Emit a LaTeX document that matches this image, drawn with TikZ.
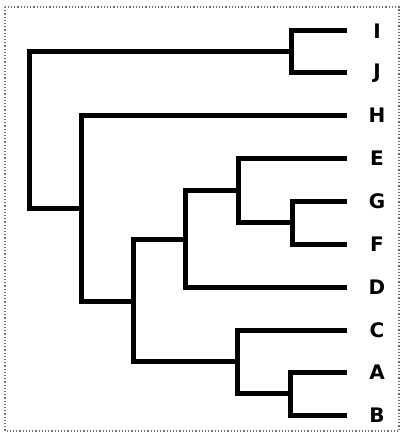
\documentclass[tikz,border=0pt]{standalone}
\usepackage{fontspec}
\setsansfont{DejaVu Sans}
\usepackage{tikz}
\usetikzlibrary{positioning}

\begin{document}
\begin{tikzpicture}[
        x=1pt, y=-1pt,
        branch/.style={line width=5pt, line join=miter, draw=black},
        leaf/.style={font=\sffamily\bfseries\fontsize{20}{23}\selectfont, anchor=center, inner sep=0pt},
        frame/.style={draw=black!55, dotted, line width=1.2pt}
    ]
        \useasboundingbox (0,0) rectangle (401,433);
        \draw[frame] (5,7) rectangle (399,431);

        % LEAF TIPS AND LABELS
        \coordinate (tipI) at (347,31);
        \coordinate (tipJ) at (347,73);
        \coordinate (tipH) at (347,115);
        \coordinate (tipE) at (347,158);
        \coordinate (tipG) at (347,201);
        \coordinate (tipF) at (347,244);
        \coordinate (tipD) at (347,287);
        \coordinate (tipC) at (347,330);
        \coordinate (tipA) at (347,372);
        \coordinate (tipB) at (347,415);
        \node[leaf] (I) at (377,31) {I};
        \node[leaf] (J) at (377,73) {J};
        \node[leaf] (H) at (377,115) {H};
        \node[leaf] (E) at (377,158) {E};
        \node[leaf] (G) at (377,201) {G};
        \node[leaf] (F) at (377,244) {F};
        \node[leaf] (D) at (377,287) {D};
        \node[leaf] (C) at (377,330) {C};
        \node[leaf] (A) at (377,372) {A};
        \node[leaf] (B) at (377,415) {B};

        % INNER NODES
        \coordinate (root) at (29,130);
        \coordinate (ij) at (291,52);
        \coordinate (hrest) at (81,208);
        \coordinate (core) at (133,301);
        \coordinate (egfd) at (185,239);
        \coordinate (egf) at (238,190);
        \coordinate (gf) at (292,222);
        \coordinate (cab) at (237,361);
        \coordinate (ab) at (290,393);

        % BRANCHES
        \draw[branch] (tipI) -| (ij) |- (tipJ);
        \draw[branch] (ij) -| (root) |- (hrest);
        \draw[branch] (tipH) -| (hrest) |- (core);
        \draw[branch] (egfd) -| (core) |- (cab);
        \draw[branch] (egf) -| (egfd) |- (tipD);
        \draw[branch] (tipE) -| (egf) |- (gf);
        \draw[branch] (tipG) -| (gf) |- (tipF);
        \draw[branch] (tipC) -| (cab) |- (ab);
        \draw[branch] (tipA) -| (ab) |- (tipB);
    \end{tikzpicture}
\end{document}
